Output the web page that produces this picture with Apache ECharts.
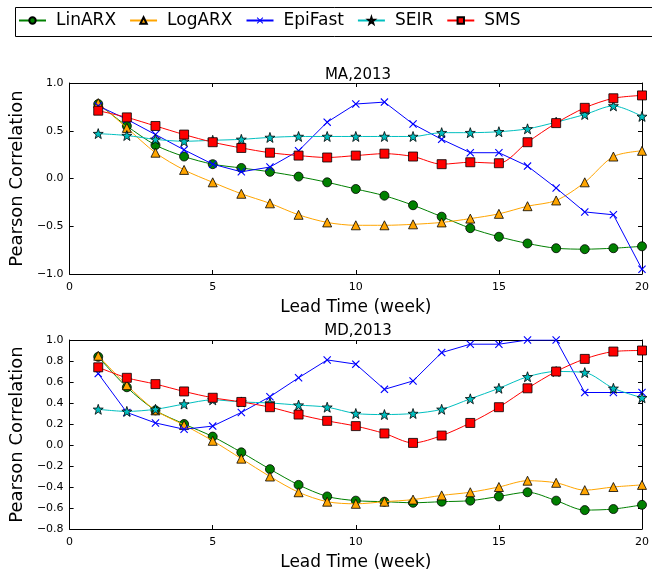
<!DOCTYPE html>
<html>
<head>
<meta charset="utf-8">
<script src="https://cdn.jsdelivr.net/npm/echarts@6/dist/echarts.min.js"></script>
<style>
  html, body { margin: 0; padding: 0; background: #fff; }
  #main { width: 652px; height: 572px; }
</style>
</head>
<body>
<div id="main"></div>
<script>
// lead time in weeks
var weeks = [1,2,3,4,5,6,7,8,9,10,11,12,13,14,15,16,17,18,19,20];

// MA,2013
var maLinARX  = [0.78,0.55,0.35,0.23,0.15,0.11,0.07,0.02,-0.04,-0.11,-0.18,-0.28,-0.40,-0.52,-0.61,-0.68,-0.73,-0.74,-0.73,-0.71];
var maLogARX  = [0.79,0.53,0.27,0.09,-0.04,-0.16,-0.26,-0.38,-0.46,-0.49,-0.49,-0.48,-0.46,-0.42,-0.37,-0.29,-0.23,-0.04,0.23,0.29];
var maEpiFast = [0.76,0.62,0.46,0.30,0.15,0.07,0.12,0.29,0.59,0.78,0.80,0.57,0.41,0.27,0.27,0.13,-0.10,-0.35,-0.38,-0.95];
var maSEIR    = [0.47,0.45,0.41,0.39,0.40,0.41,0.43,0.44,0.44,0.44,0.44,0.44,0.48,0.48,0.49,0.52,0.59,0.67,0.76,0.65];
var maSMS     = [0.71,0.64,0.55,0.46,0.38,0.32,0.27,0.24,0.22,0.24,0.26,0.23,0.15,0.17,0.16,0.38,0.58,0.74,0.84,0.87];

// MD,2013
var mdLinARX  = [0.84,0.55,0.33,0.20,0.08,-0.07,-0.23,-0.38,-0.49,-0.53,-0.54,-0.55,-0.54,-0.53,-0.49,-0.45,-0.53,-0.62,-0.61,-0.57];
var mdLogARX  = [0.85,0.57,0.33,0.19,0.04,-0.13,-0.30,-0.45,-0.54,-0.56,-0.54,-0.52,-0.48,-0.45,-0.40,-0.34,-0.36,-0.43,-0.40,-0.38];
var mdEpiFast = [0.68,0.31,0.21,0.15,0.18,0.31,0.46,0.64,0.81,0.77,0.53,0.61,0.88,0.96,0.96,1.00,1.00,0.50,0.50,0.50];
var mdSEIR    = [0.34,0.32,0.34,0.39,0.43,0.41,0.40,0.38,0.36,0.30,0.29,0.30,0.34,0.44,0.54,0.65,0.70,0.69,0.54,0.45];
var mdSMS     = [0.74,0.64,0.58,0.51,0.45,0.41,0.36,0.29,0.23,0.18,0.11,0.02,0.09,0.21,0.36,0.54,0.70,0.82,0.89,0.90];

var seriesNames = ['LinARX','LogARX','EpiFast','SEIR','SMS'];

var FONT = 'DejaVu Sans';
var xMark = 'path://M0,1L1,0L5,4L9,0L10,1L6,5L10,9L9,10L5,6L1,10L0,9L4,5Z';
var starMark = 'path://M10,0L12.35,6.76L19.51,6.91L13.8,11.24L15.88,18.09L10,14L4.12,18.09L6.2,11.24L0.49,6.91L7.65,6.76Z';

// 每条曲线的样式
var styles = [
    {color: '#008000', symbol: 'circle', size: 9, smooth: 0.3, edge: '#000'},
    {color: '#FFA500', symbol: 'triangle', size: 9, smooth: 0.3, edge: '#000'},
    {color: '#0000FF', symbol: xMark, size: 8, smooth: false, edge: '#0000FF'},
    {color: '#00BFBF', symbol: starMark, size: 10, smooth: 0.3, edge: '#000'},
    {color: '#FF0000', symbol: 'rect', size: 9, smooth: 0.3, edge: '#000'}
];

function pairs(ys) {
    return ys.map(function (y, i) { return [weeks[i], y]; });
}

function fmt(v) {
    var s = (Math.round(v * 10) / 10).toFixed(1);
    return s.replace('-', '\u2212');
}

function makeSeries(dataSets, axisIdx) {
    return dataSets.map(function (ys, i) {
        var st = styles[i];
        return {
            name: seriesNames[i],
            type: 'line',
            xAxisIndex: axisIdx,
            yAxisIndex: axisIdx,
            data: pairs(ys),
            smooth: st.smooth,
            symbol: st.symbol,
            symbolSize: st.size,
            showAllSymbol: true,
            animation: false,
            lineStyle: {color: st.color, width: 1},
            itemStyle: {color: st.color, borderColor: st.edge, borderWidth: st.edge === '#000' ? 0.8 : 0},
            z: 2 + i
        };
    });
}

var labelStyle = {color: '#000', fontFamily: FONT, fontSize: 11};
var lineBlack = {onZero: false, lineStyle: {color: '#000', width: 1}};
var tickIn = {inside: true, length: 4, lineStyle: {color: '#000'}};

function xAxes(gridIdx) {
    return [
        {
            type: 'value', gridIndex: gridIdx, min: 0, max: 20, interval: 5,
            position: 'bottom',
            name: 'Lead Time (week)', nameLocation: 'middle', nameGap: 25,
            nameTextStyle: {color: '#000', fontFamily: FONT, fontSize: 17},
            axisLine: lineBlack, axisTick: tickIn,
            axisLabel: labelStyle, splitLine: {show: false}
        },
        {
            type: 'value', gridIndex: gridIdx, min: 0, max: 20, interval: 5,
            position: 'top',
            axisLine: lineBlack, axisTick: tickIn,
            axisLabel: {show: false}, splitLine: {show: false}
        }
    ];
}

function yAxes(gridIdx, min, max, step) {
    return [
        {
            type: 'value', gridIndex: gridIdx, min: min, max: max, interval: step,
            position: 'left',
            name: 'Pearson Correlation', nameLocation: 'middle', nameGap: 41,
            nameTextStyle: {color: '#000', fontFamily: FONT, fontSize: 18},
            axisLine: lineBlack, axisTick: tickIn,
            axisLabel: Object.assign({formatter: fmt, margin: 6}, labelStyle),
            splitLine: {show: false}
        },
        {
            type: 'value', gridIndex: gridIdx, min: min, max: max, interval: step,
            position: 'right',
            axisLine: lineBlack, axisTick: tickIn,
            axisLabel: {show: false}, splitLine: {show: false}
        }
    ];
}

var xa = xAxes(0).concat(xAxes(1));   // 0,1 top grid; 2,3 bottom grid
var ya = yAxes(0, -1, 1, 0.5).concat(yAxes(1, -0.8, 1.0, 0.2));

var series = makeSeries([maLinARX, maLogARX, maEpiFast, maSEIR, maSMS], 0)
    .concat(makeSeries([mdLinARX, mdLogARX, mdEpiFast, mdSEIR, mdSMS], 2));

var myChart = echarts.init(document.getElementById('main'), null, {renderer: 'canvas'});

var option = {
    backgroundColor: '#fff',
    animation: false,
    title: [
        {text: 'MA,2013', left: 353, top: 63, textAlign: 'center',
         textStyle: {fontFamily: FONT, fontSize: 15, fontWeight: 'normal', color: '#000'}},
        {text: 'MD,2013', left: 353, top: 319, textAlign: 'center',
         textStyle: {fontFamily: FONT, fontSize: 15, fontWeight: 'normal', color: '#000'}}
    ],
    // legend frame runs off the right edge like the original
    graphic: [{
        type: 'rect', left: 13, top: 5, silent: true,
        shape: {width: 660, height: 29},
        style: {fill: 'none', stroke: '#000', lineWidth: 1}
    }],
    legend: {
        data: seriesNames,
        left: 13, top: 8,
        width: 700,
        orient: 'horizontal',
        padding: [4, 0, 4, 5],
        itemWidth: 27, itemHeight: 8, itemGap: 13,
        textStyle: {fontFamily: FONT, fontSize: 17, color: '#000', padding: [0, 0, 0, 5]}
    },
    grid: [
        {left: 62, top: 83, width: 583, height: 191},
        {left: 62, top: 340, width: 583, height: 192}
    ],
    xAxis: xa,
    yAxis: ya,
    series: series
};

myChart.setOption(option);
</script>
</body>
</html>
